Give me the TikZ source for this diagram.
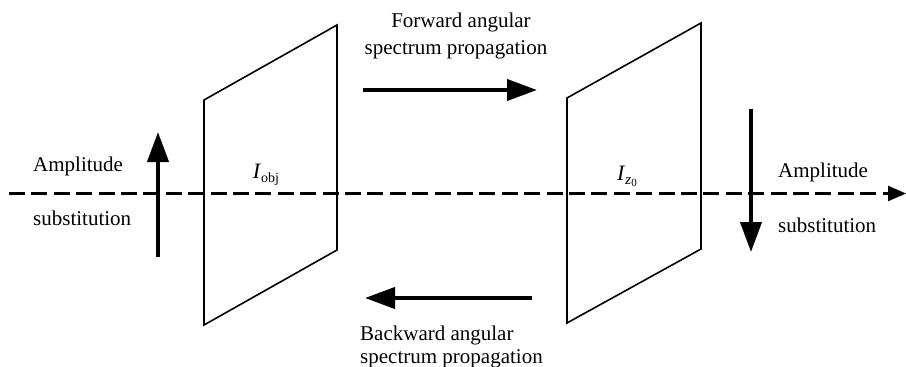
\documentclass[tikz,border=0pt]{standalone}
\usepackage{fontspec}
\setmainfont{Liberation Serif}
\usetikzlibrary{arrows.meta}
\begin{document}
\begin{tikzpicture}[x=1pt,y=-1pt,
  panel/.style={line width=1.6pt, line join=miter},
  axis/.style={line width=2.5pt, dash pattern=on 16pt off 6.4pt, -{Triangle[length=18pt,width=15pt]}},
  bigarrow/.style={line width=4pt, -{Triangle[length=30pt,width=21pt]}},
  lbl/.style={font=\fontsize{21}{24}\selectfont, inner sep=0pt, anchor=base},
  sym/.style={font=\fontsize{22}{24}\selectfont, inner sep=0pt}]
\useasboundingbox (0,0) rectangle (906,367);
% optical axis
\coordinate (ax0) at (9,193.5);
\coordinate (ax1) at (906,193.5);
\draw[axis] (ax0) -- (ax1);
% planes
\draw[panel] (204,100) -- (337,25) -- (337,250) -- (204,325) -- cycle;
\draw[panel] (567,98) -- (701,23) -- (701,249) -- (567,323) -- cycle;
% plane labels
\node[sym] (iobj) at (266,175) {\textit{I}\raisebox{-0.35ex}{\fontsize{14}{15}\selectfont obj}};
\node[sym] (iz) at (627,176) {\textit{I}\raisebox{-0.4ex}{\fontsize{15}{16}\selectfont\textit{z}\raisebox{-0.3ex}{\fontsize{11}{12}\selectfont 0}}};
% vertical arrows
\coordinate (la0) at (158,257);
\coordinate (la1) at (158,132);
\draw[bigarrow] (la0) -- (la1);
\coordinate (ra0) at (751,109);
\coordinate (ra1) at (751,252);
\draw[bigarrow] (ra0) -- (ra1);
% horizontal arrows
\coordinate (fa0) at (363,90);
\coordinate (fa1) at (537,90);
\draw[bigarrow] (fa0) -- (fa1);
\coordinate (ba0) at (532,298);
\coordinate (ba1) at (365,298);
\draw[bigarrow] (ba0) -- (ba1);
% texts
\node[lbl] (f1) at (461,27) {Forward angular};
\node[lbl] (f2) at (456,54) {spectrum propagation};
\node[lbl, anchor=base west] (b1) at (360,340) {Backward angular};
\node[lbl, anchor=base west] (b2) at (360,363) {spectrum propagation};
\node[lbl, anchor=base west] (la) at (33,171) {Amplitude};
\node[lbl, anchor=base west] (ls) at (33,225) {substitution};
\node[lbl, anchor=base west] (ra) at (778,177) {Amplitude};
\node[lbl, anchor=base west] (rs) at (778,232) {substitution};
\end{tikzpicture}
\end{document}
